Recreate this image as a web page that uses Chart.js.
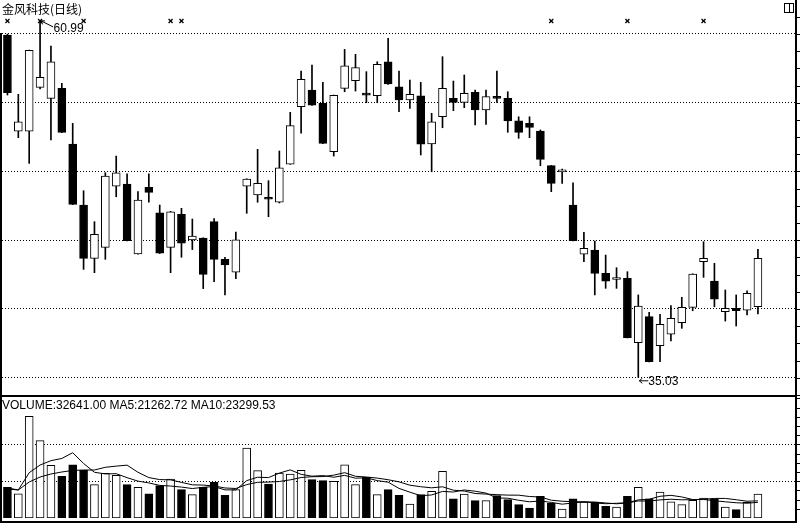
<!DOCTYPE html>
<html>
<head>
<meta charset="utf-8">
<script src="https://cdn.jsdelivr.net/npm/chart.js@4.4.1/dist/chart.umd.min.js"></script>
<style>
  body { margin: 0; background: #fff; width: 800px; height: 523px; overflow: hidden; position: relative; }
  canvas { position: absolute; left: 0; }
  #price { top: 0; }
  #vol { top: 397px; }
  .label { position: absolute; color: #000; white-space: nowrap; line-height: 12px; }
  #title { left: 2px; top: 3px; font-size: 12px; font-family: "Noto Sans CJK SC", sans-serif; }
  #volText { left: 2px; top: 399px; font-size: 12px; font-family: "Liberation Sans", Arial, sans-serif; }
</style>
</head>
<body>
<canvas id="price" width="800" height="397"></canvas>
<canvas id="vol" width="800" height="126"></canvas>
<div id="title" class="label">金风科技(日线)</div>
<div id="volText" class="label">VOLUME:32641.00 MA5:21262.72 MA10:23299.53</div>
<script>
// daily candles, oldest first
const openP = [
  59.92, 52.94, 52.94, 56.12, 55.32, 56.05, 52.00, 47.56, 43.68, 44.48,
  48.94, 49.09, 44.00, 48.85, 47.00, 44.48, 46.88, 45.02, 45.16, 46.35,
  43.61, 42.67, 48.94, 48.29, 48.00, 47.76, 50.54, 54.71, 55.92, 54.96,
  51.44, 56.05, 56.60, 55.58, 55.51, 57.98, 56.16, 55.20, 55.51, 52.00,
  53.98, 55.32, 55.03, 55.76, 54.47, 55.44, 55.32, 53.69, 53.50, 52.94,
  50.42, 49.97, 47.56, 43.98, 44.29, 42.59, 42.14, 42.23, 37.55, 39.44,
  37.33, 38.16, 39.00, 40.12, 43.44, 42.03, 39.80, 40.05, 39.92, 40.16
];
const highP = [
  59.99, 55.61, 58.83, 60.99, 59.12, 56.41, 53.50, 48.60, 46.35, 49.91,
  51.12, 49.82, 48.53, 49.82, 47.56, 47.10, 47.32, 46.54, 45.18, 46.57,
  43.76, 45.60, 49.47, 51.61, 49.33, 51.49, 54.30, 57.31, 57.74, 56.48,
  55.56, 58.88, 58.52, 57.26, 57.98, 59.68, 57.31, 56.65, 56.48, 54.23,
  58.35, 56.58, 57.02, 55.92, 55.92, 57.31, 55.80, 53.98, 53.98, 53.02,
  50.44, 50.18, 49.18, 45.58, 44.94, 43.92, 43.00, 42.71, 41.02, 39.76,
  39.61, 40.24, 40.85, 42.56, 44.89, 43.32, 41.38, 41.02, 41.31, 44.34
];
const lowP = [
  55.56, 52.46, 50.59, 56.00, 52.29, 52.83, 47.59, 42.88, 42.64, 43.61,
  48.16, 44.94, 43.98, 47.76, 44.03, 42.64, 43.76, 44.32, 41.48, 41.98,
  41.02, 42.20, 46.96, 47.76, 46.71, 47.71, 50.52, 52.78, 54.81, 52.03,
  51.12, 55.80, 55.85, 55.00, 55.00, 56.34, 54.35, 54.59, 51.20, 49.98,
  53.18, 54.42, 54.64, 53.38, 53.43, 55.03, 52.85, 52.41, 52.46, 50.42,
  48.53, 49.14, 44.94, 43.44, 41.02, 41.50, 41.50, 37.89, 35.03, 36.14,
  36.16, 37.67, 38.59, 39.87, 42.30, 40.16, 39.12, 38.76, 39.56, 39.63
];
const closeP = [
  55.73, 53.62, 58.81, 56.85, 57.98, 52.85, 47.61, 43.68, 45.43, 49.67,
  49.91, 44.96, 47.92, 48.48, 44.05, 47.07, 44.78, 45.31, 42.52, 43.61,
  43.20, 45.02, 49.45, 49.14, 47.98, 50.27, 53.33, 56.70, 54.83, 52.05,
  55.54, 57.69, 57.55, 55.55, 57.79, 56.36, 55.20, 55.61, 51.98, 53.62,
  56.05, 55.03, 55.69, 54.47, 55.44, 55.32, 53.67, 52.85, 53.21, 50.88,
  49.14, 49.99, 44.96, 44.41, 42.59, 42.03, 42.17, 37.91, 40.21, 36.16,
  38.88, 39.32, 40.12, 42.54, 43.68, 40.72, 40.05, 39.87, 41.14, 43.68
];
const volume = [
  41600, 33000, 138100, 105100, 71500, 56500, 72400, 64700, 45300, 60600,
  57900, 45300, 41600, 33000, 43900, 53000, 38500, 31700, 41600, 48400,
  30700, 38500, 95100, 64300, 46200, 61200, 59800, 64700, 52100, 50700,
  49700, 72400, 45300, 55200, 31700, 38500, 30700, 19000, 31700, 36100,
  63300, 26200, 32600, 23500, 23500, 30300, 24900, 18100, 13600, 29400,
  20400, 12200, 26200, 21700, 21200, 15800, 14900, 29400, 41600, 26200,
  35300, 22100, 18100, 23900, 27200, 26200, 14900, 11300, 21300, 32641
];
const ma5 = [
  40800, 38100, 61500, 72000, 77900, 80900, 88700, 74100, 62100, 59900,
  60200, 54800, 50100, 47700, 44300, 43400, 42000, 40000, 41700, 42700,
  38200, 38200, 50800, 55400, 54900, 61000, 65400, 59300, 56800, 57600,
  55400, 57900, 54100, 54600, 50800, 48700, 40200, 35100, 30300, 31300,
  36100, 35300, 38100, 36400, 33800, 27200, 26900, 24100, 22000, 23200,
  21200, 18800, 20400, 22000, 20400, 19400, 20000, 20700, 24600, 25500,
  29500, 30800, 28600, 25100, 25200, 23500, 22000, 20700, 20100, 21263
];
const ma10 = [
  39400, 38100, 48900, 55700, 59800, 62500, 64600, 65200, 65200, 68900,
  70500, 71800, 62100, 54900, 52200, 51800, 48400, 45100, 44700, 43500,
  40800, 40100, 45400, 48500, 48800, 49600, 51800, 55000, 56100, 56300,
  58200, 61600, 56700, 55700, 54200, 52000, 49100, 44600, 42500, 41000,
  42400, 37800, 36600, 33300, 32500, 31700, 31100, 31000, 29200, 28500,
  24200, 22800, 22200, 22000, 21700, 20400, 19300, 20500, 23200, 23000,
  24600, 25500, 24700, 24900, 25500, 26600, 26600, 24800, 22800, 23300
];
const priceTicks = [35, 40, 45, 50, 55, 60];
const volumeTicks = [50000, 100000];
const markerDays = [0, 3, 7, 15, 16, 50, 57, 64];
const emptySlots = 3; // room on the right after the last day

const slots = openP.map((_, i) => String(i + 1)).concat(Array(emptySlots).fill(''));
const upDay = openP.map((o, i) => closeP[i] >= o);
const fills = upDay.map(up => (up ? '#ffffff' : '#000000'));

function line(ctx, x1, y1, x2, y2) {
  ctx.beginPath();
  ctx.moveTo(x1, y1);
  ctx.lineTo(x2, y2);
  ctx.stroke();
}

const priceDecor = {
  id: 'priceDecor',
  afterDraw(chart) {
    const { ctx, scales: { x, y } } = chart;
    ctx.save();
    ctx.fillStyle = '#000';
    ctx.strokeStyle = '#000';
    ctx.lineWidth = 1;
    // frame
    ctx.fillRect(0, 33, 2, chart.height - 33);
    ctx.fillRect(795, 0, 2, chart.height);
    ctx.fillRect(0, 395, 797, 2);
    // small ticks on the right edge
    for (let v = priceTicks[0] - 1.25; v < y.max; v += 1.25) {
      const py = Math.round(y.getPixelForValue(v)) + 0.5;
      line(ctx, 797, py, 800, py);
    }
    // window icon top right
    ctx.strokeRect(784.5, 3.5, 9, 9);
    line(ctx, 789.5, 3.5, 789.5, 12.5);
    // info markers
    ctx.lineWidth = 1.3;
    markerDays.forEach(i => {
      const cx = x.getPixelForValue(i);
      line(ctx, cx - 2, 19, cx + 2, 23);
      line(ctx, cx + 2, 19, cx - 2, 23);
    });
    // high / low labels
    ctx.lineWidth = 1;
    ctx.font = '12px "Liberation Sans", Arial, sans-serif';
    ctx.textBaseline = 'alphabetic';
    const iHi = highP.indexOf(Math.max(...highP));
    const hx = x.getPixelForValue(iHi), hy = y.getPixelForValue(highP[iHi]);
    line(ctx, hx + 1, hy + 0.5, hx + 13, hy + 6.5);
    line(ctx, hx + 1, hy + 0.5, hx + 5, hy + 0.5);
    line(ctx, hx + 1, hy + 0.5, hx + 2.5, hy + 4);
    ctx.fillText(highP[iHi].toFixed(2), hx + 13.5, hy + 12);
    const iLo = lowP.indexOf(Math.min(...lowP));
    const lx = x.getPixelForValue(iLo), ly = y.getPixelForValue(lowP[iLo]);
    line(ctx, lx + 1, ly + 3.5, lx + 10, ly + 3.5);
    line(ctx, lx + 1, ly + 3.5, lx + 4, ly + 1);
    line(ctx, lx + 1, ly + 3.5, lx + 4, ly + 6);
    ctx.fillText(lowP[iLo].toFixed(2), lx + 10, ly + 8);
    ctx.restore();
  }
};

const volDecor = {
  id: 'volDecor',
  afterDraw(chart) {
    const { ctx, scales: { y } } = chart;
    ctx.save();
    ctx.fillStyle = '#000';
    ctx.strokeStyle = '#000';
    ctx.lineWidth = 1;
    ctx.fillRect(0, 0, 2, chart.height);
    ctx.fillRect(795, 0, 2, chart.height);
    ctx.fillRect(0, 124, 797, 2);
    for (let v = 12500; v < y.max; v += 12500) {
      const py = Math.round(y.getPixelForValue(v)) + 0.5;
      line(ctx, 797, py, 800, py);
    }
    ctx.restore();
  }
};

const gridStyle = {
  ticks: { display: false },
  grid: { color: '#000', lineWidth: 1, drawTicks: false },
  border: { display: false, dash: [1, 2] }
};

new Chart(document.getElementById('price'), {
  type: 'bar',
  data: {
    labels: slots,
    datasets: [
      {
        label: 'body',
        data: openP.map((o, i) => [o, closeP[i]]),
        backgroundColor: fills,
        borderColor: '#000',
        borderWidth: 1,
        borderSkipped: false,
        barThickness: 8,
        minBarLength: 2,
        grouped: false,
        order: 0
      },
      {
        label: 'wick',
        data: lowP.map((l, i) => [l, highP[i]]),
        backgroundColor: '#000',
        borderWidth: 0,
        barThickness: 1,
        grouped: false,
        order: 1
      }
    ]
  },
  options: {
    responsive: false,
    animation: false,
    devicePixelRatio: 1,
    layout: { padding: { left: 2, right: 4, top: 0, bottom: 0 } },
    plugins: { legend: { display: false }, tooltip: { enabled: false } },
    scales: {
      x: { display: false },
      y: Object.assign({
        min: 33.596,
        max: 62.473,
        afterBuildTicks: s => { s.ticks = priceTicks.map(v => ({ value: v })); }
      }, gridStyle)
    }
  },
  plugins: [priceDecor]
});

new Chart(document.getElementById('vol'), {
  type: 'bar',
  data: {
    labels: slots,
    datasets: [
      {
        type: 'line',
        label: 'MA5',
        data: ma5,
        borderColor: '#000',
        borderWidth: 1,
        pointRadius: 0,
        tension: 0,
        fill: false,
        order: 0
      },
      {
        type: 'line',
        label: 'MA10',
        data: ma10,
        borderColor: '#000',
        borderWidth: 1,
        pointRadius: 0,
        tension: 0,
        fill: false,
        order: 0
      },
      {
        label: 'VOLUME',
        data: volume,
        backgroundColor: fills,
        borderColor: '#000',
        borderWidth: 1,
        borderSkipped: false,
        barThickness: 8,
        order: 1
      }
    ]
  },
  options: {
    responsive: false,
    animation: false,
    devicePixelRatio: 1,
    layout: { padding: { left: 2, right: 4, top: 0, bottom: 5 } },
    plugins: { legend: { display: false }, tooltip: { enabled: false } },
    scales: {
      x: { display: false },
      y: Object.assign({
        min: 0,
        max: 164400,
        afterBuildTicks: s => { s.ticks = volumeTicks.map(v => ({ value: v })); }
      }, gridStyle)
    }
  },
  plugins: [volDecor]
});
</script>
</body>
</html>
